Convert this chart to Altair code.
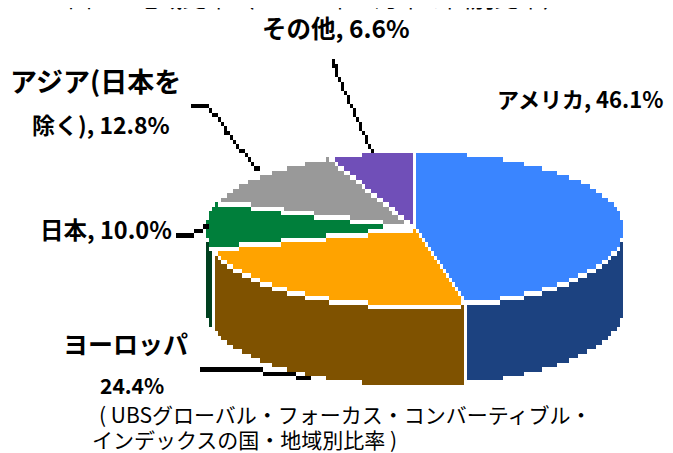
import math
import altair as alt
import pandas as pd

# Shares of the pie, clockwise from 12 o'clock
names = ["アメリカ", "ヨーロッパ", "日本", "アジア(日本を除く)", "その他"]
shares = [46.1, 24.4, 10.0, 12.8, 6.6]
top_colors = ["#3a85ff", "#ffa300", "#007f3b", "#999999", "#704fb8"]
side_colors = ["#1c4280", "#7f5200", "#00401f", "#4c4c4c", "#382860"]

label_text = ["アメリカ, 46.1%", "その他, 6.6%", "アジア(日本を", "除く), 12.8%",
              "日本, 10.0%", "ヨーロッパ", "24.4%"]
label_size = [22, 24.5, 27, 23, 23.5, 25, 21]
label_x = [497, 262, 10, 32, 40, 63, 100]
label_y = [101, 31, 84, 127, 232, 346, 388]

note_text = ["( UBSグローバル・フォーカス・コンバーティブル・", "インデックスの国・地域別比率 )"]
note_x = [99, 92]
note_y = [417, 442]

title_text = "図－3 地域比率（　　　年　月末の国別比率）"
title_x = [68]
title_y = [0]

leaders = [
    [(333, 60), (339, 80), (372, 149)],
    [(192, 106), (207, 106), (258, 170)],
    [(176, 236), (190, 236), (206, 226)],
    [(200, 370), (247, 370), (289, 374), (308, 379)],
]

OFF = 8            # page margin
CX, CY, RX, RY = 414.5, 228.5, 209.0, 76.0
DEPTH = 80.5
COL, ROW = 3.0, 4.46
X0, Y0 = 2.0, 153.0
LABEL_FONT = "Noto Sans CJK JP"


def row_top(k):
    return round(Y0 + ROW * k)


def col_left(j):
    return X0 + COL * j


total = sum(shares)
edges = [0.0]
for s in shares:
    edges.append(edges[-1] + s / total * 2 * math.pi)
ends = [(CX + RX * math.sin(a), CY - RY * math.cos(a)) for a in edges[:-1]]
split_x = [CX + RX * math.sin(edges[1]), CX + RX * math.sin(edges[2]), CX + RX * math.sin(edges[3])]


def on_border(px, py):
    for ex, ey in ends:
        dx, dy = ex - CX, ey - CY
        t = ((px - CX) * dx + (py - CY) * dy) / (dx * dx + dy * dy)
        if t < 0:
            continue
        if abs(dx) / COL > abs(dy) / ROW:
            if abs(py - (CY + dy * (px - CX) / dx)) <= ROW / 2:
                return True
        else:
            if abs(px - (CX + dx * (py - CY) / dy)) <= COL / 2:
                return True
    return False


def classify(px, py):
    dx, dy = (px - CX) / RX, (py - CY) / RY
    if dx * dx + dy * dy <= 1:
        if on_border(px, py):
            return "white"
        a = math.atan2(dx, -dy) % (2 * math.pi)
        for i in range(len(shares)):
            if edges[i] <= a < edges[i + 1]:
                return "top%d" % i
        return "top0"
    if abs(dx) > 1 or py < CY:
        return None
    low = CY + RY * math.sqrt(1 - dx * dx)
    if py > low + DEPTH:
        return None
    if py <= low + ROW:
        return "white"
    for sx_ in split_x[:2]:
        if abs(px - sx_) <= COL / 2:
            return "white"
    if px > split_x[0]:
        return "side0"
    if px > split_x[1]:
        return "side1"
    return "side2"


rows = []
for k in range(0, 53):
    y0, y1 = row_top(k), row_top(k + 1)
    run, start = None, None
    for j in range(60, 212):
        c = classify(col_left(j) + COL / 2, (y0 + y1) / 2)
        if c != run:
            if run not in (None, "white"):
                rows.append(dict(x=start - OFF, x2=col_left(j) - OFF, y=y0 - OFF, y2=y1 - OFF, part=run))
            run, start = c, col_left(j)
    if run not in (None, "white"):
        rows.append(dict(x=start - OFF, x2=col_left(212) - OFF, y=y0 - OFF, y2=y1 - OFF, part=run))

# Leader lines stepped on the same coarse grid
black = {}
for path in leaders:
    for (ax, ay), (bx, by) in zip(path, path[1:]):
        n = int(max(abs(bx - ax) / COL, abs(by - ay) / ROW)) + 1
        for i in range(n + 1):
            px = ax + (bx - ax) * i / n
            py = ay + (by - ay) * i / n
            j = int((px - X0) // COL)
            k = int((py - Y0) // ROW)
            black[(j, k)] = 1
for j, k in black:
    rows.append(dict(x=col_left(j) - OFF, x2=col_left(j + 1) - OFF,
                     y=row_top(k) - OFF, y2=row_top(k + 1) - OFF, part="leader"))

cells = pd.DataFrame(rows)
sx = alt.Scale(domain=[0, 657], range=[0, 657])
sy = alt.Scale(domain=[-20, 445], range=[-20, 445])
domain = ["top%d" % i for i in range(5)] + ["side%d" % i for i in range(5)] + ["leader"]
colors = top_colors + side_colors + ["#000000"]

pie = alt.Chart(cells).mark_rect(strokeWidth=0).encode(
    x=alt.X("x:Q", scale=sx, axis=None),
    x2="x2:Q",
    y=alt.Y("y:Q", scale=sy, axis=None),
    y2="y2:Q",
    color=alt.Color("part:N", scale=alt.Scale(domain=domain, range=colors), legend=None),
)

labels = pd.DataFrame(dict(t=label_text, s=label_size, x=[v - OFF for v in label_x], y=[v - OFF for v in label_y]))
label_layer = alt.Chart(labels).mark_text(
    align="left", baseline="middle", font=LABEL_FONT, fontWeight="bold", color="#000000"
).encode(
    x=alt.X("x:Q", scale=sx, axis=None),
    y=alt.Y("y:Q", scale=sy, axis=None),
    text="t:N",
    size=alt.Size("s:Q", scale=None, legend=None),
)

notes = pd.DataFrame(dict(t=note_text, x=[v - OFF for v in note_x], y=[v - OFF for v in note_y]))
note_layer = alt.Chart(notes).mark_text(
    align="left", baseline="middle", font=LABEL_FONT, fontSize=21, color="#000000"
).encode(
    x=alt.X("x:Q", scale=sx, axis=None),
    y=alt.Y("y:Q", scale=sy, axis=None),
    text="t:N",
)

# The reference's title is cut by the top edge: only its lowest strokes show
title_df = pd.DataFrame(dict(t=[title_text], x=[v - OFF for v in title_x], y=[v - OFF for v in title_y]))
title_layer = alt.Chart(title_df).mark_text(
    align="left", baseline="middle", font=LABEL_FONT, fontSize=24, color="#000000"
).encode(
    x=alt.X("x:Q", scale=sx, axis=None),
    y=alt.Y("y:Q", scale=sy, axis=None),
    text="t:N",
)

chart = alt.layer(pie, label_layer, note_layer, title_layer).properties(
    width=657, height=445, padding=0, autosize=alt.AutoSizeParams(type="none"), background="white"
).configure_view(stroke=None)

chart.save("out.html", embed_options={"renderer": "svg", "actions": False})
